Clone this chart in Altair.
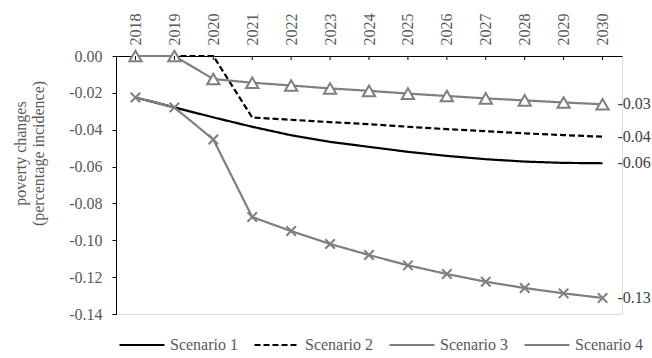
import altair as alt
import pandas as pd

years = [str(y) for y in range(2018, 2031)]
scenarios = ["Scenario 1", "Scenario 2", "Scenario 3", "Scenario 4"]
s1 = [-0.0225, -0.0279, -0.0333, -0.0384, -0.0430, -0.0466, -0.0493, -0.0520, -0.0542, -0.0560, -0.0573, -0.0580, -0.0582]
s2 = [0.0, 0.0, 0.0, -0.0334, -0.0346, -0.0359, -0.0370, -0.0384, -0.0397, -0.0408, -0.0420, -0.0429, -0.0438]
s3 = [0.0, 0.0, -0.0125, -0.0145, -0.0160, -0.0176, -0.0189, -0.0204, -0.0217, -0.0230, -0.0241, -0.0252, -0.0262]
s4 = [-0.0225, -0.0279, -0.0453, -0.0874, -0.0950, -0.1020, -0.1080, -0.1136, -0.1183, -0.1225, -0.1259, -0.1288, -0.1313]
end_labels = ["-0.06", "-0.04", "-0.03", "-0.13"]
y_ticks = [0.0, -0.02, -0.04, -0.06, -0.08, -0.10, -0.12, -0.14]

series = [s1, s2, s3, s4]
rows = []
for name, vals in zip(scenarios, series):
    for yr, v in zip(years, vals):
        rows.append({"year": yr, "scenario": name, "value": v})
df = pd.DataFrame(rows)
ends = pd.DataFrame({
    "year": [years[-1]] * 4,
    "scenario": scenarios,
    "value": [s[-1] for s in series],
    "label": end_labels,
})
ticks_df = pd.DataFrame({"year": years})

FONT = "Liberation Serif"
GRAY = "#7f7f7f"
LABEL = "#595959"

xscale = alt.Scale(type="point", padding=0.5, domain=years)
xaxis = alt.Axis(
    orient="top", title=None, labelAngle=270, ticks=False, labelPadding=11,
    domainColor="black", domainWidth=1, labelColor=LABEL, labelFont=FONT,
    labelFontSize=16, grid=False, labelOverlap=False,
)
xenc = alt.X("year:O", scale=xscale, axis=xaxis)
yscale = alt.Scale(domain=[-0.14, 0], nice=False)
yaxis = alt.Axis(
    values=y_ticks, grid=False, tickSize=4, tickColor="black", domainColor="black",
    labelPadding=10, labelColor=LABEL, labelFont=FONT, labelFontSize=16,
    labelOverlap=False, labelFlush=False, labelBound=False,
    labelExpr="(datum.value < -0.0001 ? '-' : '') + format(abs(datum.value), '.2f')",
    title=["poverty changes", "(percentage incidence)"], titleColor=LABEL,
    titleFont=FONT, titleFontSize=16, titleFontWeight="normal",
    titleAngle=270, titleX=-104, titleY=97, titleBaseline="top", titleAlign="center",
    titleLineHeight=18,
)
yenc = alt.Y("value:Q", scale=yscale, axis=yaxis)

legend = alt.Legend(
    orient="none", legendX=2, legendY=265, direction="horizontal", title=None,
    symbolType="stroke", symbolSize=2025, symbolStrokeWidth=2.2,
    labelFont=FONT, labelFontSize=16, labelColor=LABEL, labelOffset=4, columnPadding=12,
)

lines = alt.Chart(df).mark_line(strokeWidth=2.2).encode(
    x=xenc,
    y=yenc,
    color=alt.Color("scenario:N", scale=alt.Scale(domain=scenarios, range=["black", "black", GRAY, GRAY]), legend=legend),
    strokeDash=alt.StrokeDash("scenario:N", scale=alt.Scale(domain=scenarios, range=[[1, 0], [6, 3], [1, 0], [1, 0]]), legend=legend),
    order=alt.Order("year:O"),
)

pts = alt.Chart(df).transform_filter(
    alt.FieldOneOfPredicate(field="scenario", oneOf=["Scenario 3", "Scenario 4"])
).mark_point(fill="white", stroke=GRAY, strokeWidth=2, opacity=1, fillOpacity=1).encode(
    x=xenc,
    y=yenc,
    shape=alt.Shape("scenario:N", scale=alt.Scale(domain=["Scenario 3", "Scenario 4"], range=["triangle-up", "M-1,-1L1,1M1,-1L-1,1"]), legend=None),
    size=alt.Size("scenario:N", scale=alt.Scale(domain=["Scenario 3", "Scenario 4"], range=[150, 90]), legend=None),
)

tickmarks = alt.Chart(ticks_df).mark_rule(color="black", strokeWidth=1).encode(
    x=xenc,
    y=alt.value(0),
    y2=alt.value(4),
)

labels = alt.Chart(ends).mark_text(align="left", baseline="middle", dx=15, font=FONT, fontSize=16, color="#404040").encode(
    x=xenc,
    y=yenc,
    text="label:N",
)

chart = alt.layer(lines, pts, tickmarks, labels).properties(
    width=506, height=258,
    autosize=alt.AutoSizeParams(type="none"),
    padding={"left": 116, "top": 56, "right": 30, "bottom": 44},
).configure_view(stroke=None).configure_axis(labelOverlap=False).configure(background="white")

chart.save("out.html", embed_options={"renderer": "svg", "actions": False})
